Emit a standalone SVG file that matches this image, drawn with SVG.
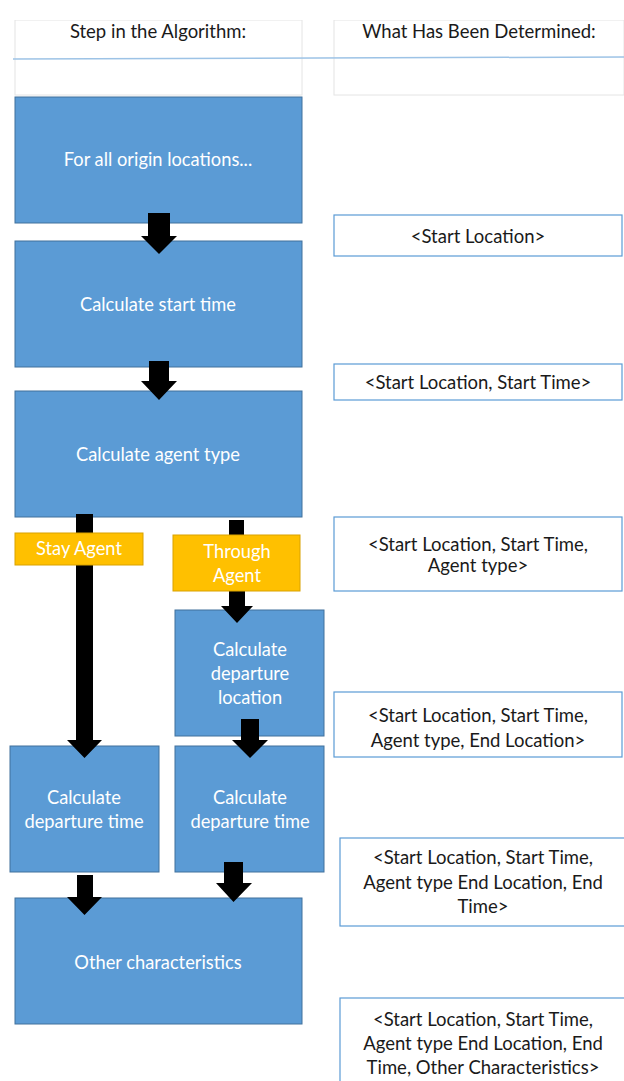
<svg xmlns="http://www.w3.org/2000/svg" width="624" height="1081" viewBox="0 0 624 1081">
<style>
.step{fill:#5B9BD5;stroke:#41719C;stroke-width:1}
.agent{fill:#FFC000;stroke:#D9A200;stroke-width:1}
.info{fill:#FFFFFF;stroke:#5B9BD5;stroke-width:1.2}
.cell{fill:#FFFFFF;stroke:#E4E4E4;stroke-width:1}
.arrow{fill:#000000}
text{font-family:Lato,"Liberation Sans",sans-serif;font-size:18.5px;text-anchor:middle}
.w{fill:#FFFFFF;font-size:18.3px}
.k{fill:#1A1A1A}
</style>
<rect width="624" height="1081" fill="#FFFFFF"/>
<g id="header">
<rect class="cell" x="15" y="20" width="287" height="75"/>
<rect class="cell" x="334" y="20" width="290" height="75"/>
<rect x="0" y="0" width="624" height="20" fill="#FFFFFF"/>
<line x1="13" y1="59" x2="624" y2="57" stroke="#9DC3E6" stroke-width="1.5"/>
<text class="k" x="158" y="38">Step in the Algorithm:</text>
<text class="k" x="479" y="38">What Has Been Determined:</text>
</g>
<g id="n1"><rect class="step" x="15" y="97" width="287" height="126"/><text class="w" x="158" y="166">For all origin locations...</text></g>
<g id="n2"><rect class="step" x="15" y="241" width="287" height="126"/><text class="w" x="158" y="311">Calculate start time</text></g>
<g id="n3"><rect class="step" x="15" y="391" width="287" height="126"/><text class="w" x="158" y="461">Calculate agent type</text></g>
<g id="n6"><rect class="step" x="175" y="610" width="149" height="126"/><text class="w" x="250" y="656">Calculate</text><text class="w" x="250" y="680">departure</text><text class="w" x="250" y="704">location</text></g>
<g id="n7"><rect class="step" x="10" y="746" width="149" height="126"/><text class="w" x="84" y="804">Calculate</text><text class="w" x="84" y="828">departure time</text></g>
<g id="n8"><rect class="step" x="175" y="746" width="149" height="126"/><text class="w" x="250" y="804">Calculate</text><text class="w" x="250" y="828">departure time</text></g>
<g id="n9"><rect class="step" x="15" y="898" width="287" height="126"/><text class="w" x="158" y="969">Other characteristics</text></g>
<g id="connectors">
<polygon class="arrow" points="148,213 170,213 170,236 177,236 159,254 141,236 148,236"/>
<polygon class="arrow" points="149,361 169,361 169,381 177,381 159,400 141,381 149,381"/>
<polygon class="arrow" points="76,514 93,514 93,740 102,740 84.5,758 67,740 76,740"/>
<polygon class="arrow" points="229,520 244,520 244,536 229,536"/>
<polygon class="arrow" points="229,590 245,590 245,606 253,606 237,623 221,606 229,606"/>
<polygon class="arrow" points="241,719 259,719 259,740 268,740 250,758 232,740 241,740"/>
<polygon class="arrow" points="77,875 93,875 93,897 102,897 84.5,915 67,897 77,897"/>
<polygon class="arrow" points="224,862 243,862 243,883 252,883 233.5,902 216,883 224,883"/>
</g>
<g id="n4"><rect class="agent" x="15" y="533" width="128" height="32"/><text class="w" x="79" y="555">Stay Agent</text></g>
<g id="n5"><rect class="agent" x="173" y="535" width="127" height="56"/><text class="w" x="237" y="558">Through</text><text class="w" x="237" y="582">Agent</text></g>
<g id="d1"><rect class="info" x="334" y="215" width="288" height="41"/><text class="k" x="478" y="243">&lt;Start Location&gt;</text></g>
<g id="d2"><rect class="info" x="334" y="364" width="288" height="36"/><text class="k" x="478" y="389">&lt;Start Location, Start Time&gt;</text></g>
<g id="d3"><rect class="info" x="334" y="517" width="288" height="74"/><text class="k" x="478" y="551">&lt;Start Location, Start Time,</text><text class="k" x="478" y="572">Agent type&gt;</text></g>
<g id="d4"><rect class="info" x="334" y="692" width="288" height="65"/><text class="k" x="478" y="722">&lt;Start Location, Start Time,</text><text class="k" x="478" y="747">Agent type, End Location&gt;</text></g>
<g id="d5"><rect class="info" x="340" y="838" width="286" height="88"/><text class="k" x="483" y="864">&lt;Start Location, Start Time,</text><text class="k" x="483" y="889">Agent type End Location, End</text><text class="k" x="483" y="913">Time&gt;</text></g>
<g id="d6"><rect class="info" x="340" y="998" width="286" height="90"/><text class="k" x="483" y="1026">&lt;Start Location, Start Time,</text><text class="k" x="483" y="1050">Agent type End Location, End</text><text class="k" x="483" y="1074">Time, Other Characteristics&gt;</text></g>
</svg>
